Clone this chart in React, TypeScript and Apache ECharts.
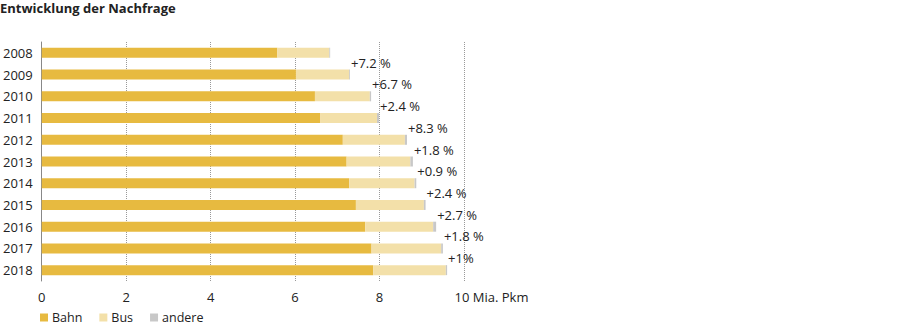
import React, { useEffect, useRef } from "react";
import * as echarts from "echarts";

const years = ["2008", "2009", "2010", "2011", "2012", "2013", "2014", "2015", "2016", "2017", "2018"];
const bahn = [5.58, 6.02, 6.47, 6.6, 7.13, 7.22, 7.28, 7.44, 7.66, 7.81, 7.85];
const bus = [1.23, 1.26, 1.3, 1.34, 1.47, 1.51, 1.55, 1.61, 1.61, 1.65, 1.72];
const andere = [0.02, 0.02, 0.03, 0.05, 0.05, 0.06, 0.04, 0.04, 0.07, 0.04, 0.03];
const changeLabels = ["", "+7.2 %", "+6.7 %", "+2.4 %", "+8.3 %", "+1.8 %", "+0.9 %", "+2.4 %", "+2.7 %", "+1.8 %", "+1%"];
const xTicks = [0, 2, 4, 6, 8, 10];
const xUnit = "Mia. Pkm";

const FONT = "'Open Sans', 'Noto Sans', sans-serif";
const COLORS = { bahn: "#E7BA40", bus: "#F3E0A9", andere: "#C8C8C8" };

export default function App() {
  const ref = useRef<HTMLDivElement>(null);
  useEffect(() => {
    if (!ref.current) return;
    const chart = echarts.init(ref.current, undefined, { renderer: "svg" });
    const last = xTicks[xTicks.length - 1];
    chart.setOption({
      animation: false,
      textStyle: { fontFamily: FONT },
      title: {
        text: "Entwicklung der Nachfrage",
        left: 0,
        top: 1,
        padding: 0,
        textStyle: { fontFamily: FONT, fontSize: 13, fontWeight: "bold", color: "#222" },
      },
      legend: {
        data: ["Bahn", "Bus", "andere"],
        left: 40,
        top: 311,
        padding: 0,
        icon: "rect",
        itemWidth: 8,
        itemHeight: 8,
        itemGap: 17,
        textStyle: { fontFamily: FONT, fontSize: 12.5, color: "#222", padding: [0, 0, 0, -1] },
      },
      grid: { left: 39, right: 436, top: 42, height: 239, containLabel: false },
      xAxis: {
        type: "value",
        min: xTicks[0],
        max: last,
        interval: 2,
        axisLine: { show: false },
        axisTick: { show: false },
        axisLabel: {
          fontFamily: FONT,
          fontSize: 13,
          color: "#222",
          margin: 9,
          formatter: (v: number) => (v === last ? `{u|${v} ${xUnit}}` : `${v}`),
          rich: {
            u: { fontFamily: FONT, fontSize: 13, color: "#222", padding: [0, 0, 0, 55] },
          },
        },
        splitLine: { show: true, lineStyle: { type: "dotted", color: "#999", width: 1 } },
      },
      yAxis: {
        type: "category",
        data: years,
        inverse: true,
        axisLine: { show: true, lineStyle: { color: "#888", width: 1 } },
        axisTick: { show: false },
        axisLabel: { fontFamily: FONT, fontSize: 13, color: "#222", margin: 9 },
      },
      series: [
        {
          name: "Bahn",
          type: "bar",
          stack: "total",
          data: bahn,
          barWidth: 10,
          itemStyle: { color: COLORS.bahn },
        },
        {
          name: "Bus",
          type: "bar",
          stack: "total",
          data: bus,
          barWidth: 10,
          itemStyle: { color: COLORS.bus },
        },
        {
          name: "andere",
          type: "bar",
          stack: "total",
          data: andere,
          barWidth: 10,
          itemStyle: { color: COLORS.andere },
          label: {
            show: true,
            position: "right",
            distance: 1,
            offset: [0, -12],
            fontFamily: FONT,
            fontSize: 13,
            color: "#222",
            formatter: (p: any) => changeLabels[p.dataIndex],
          },
        },
      ],
    });
    return () => chart.dispose();
  }, []);
  return (
    <div
      ref={ref}
      style={{ position: "fixed", left: 0, top: 0, width: 900, height: 325, background: "#fff" }}
    />
  );
}
